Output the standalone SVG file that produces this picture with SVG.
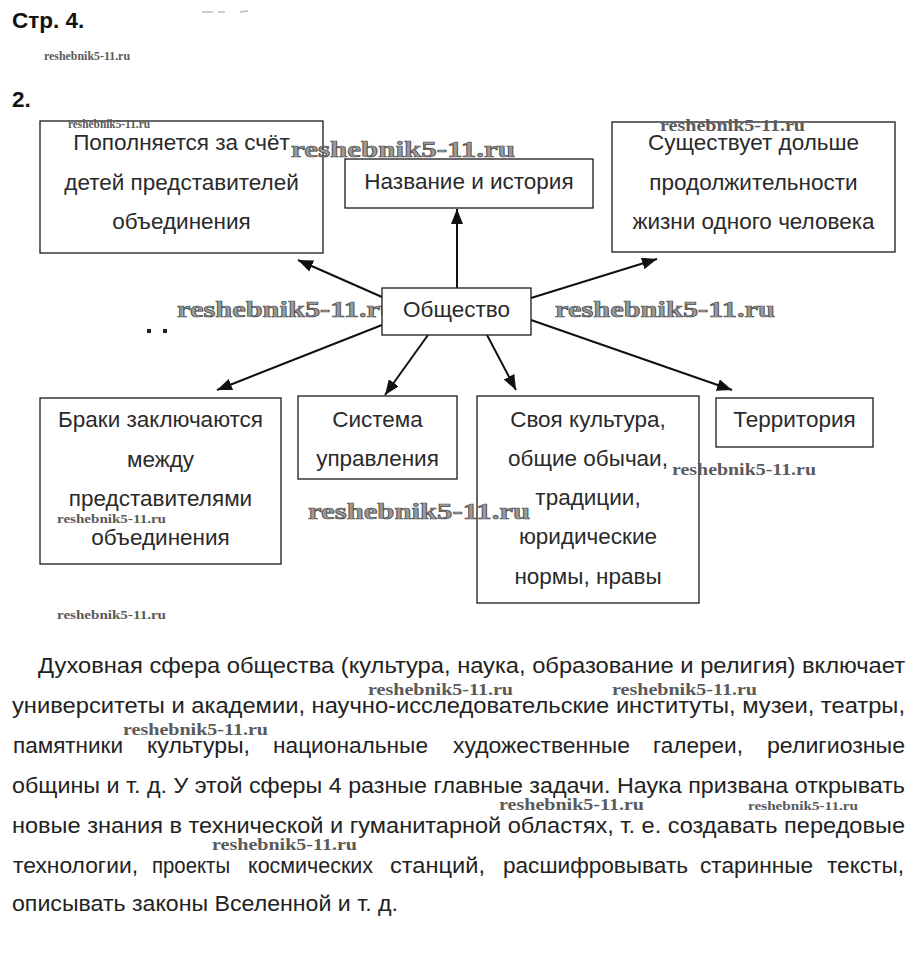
<svg xmlns="http://www.w3.org/2000/svg" width="920" height="963" viewBox="0 0 920 963">
<style>
.bg{fill:#fff}
.box{fill:#fff;stroke:#1a1a1a;stroke-width:1.3}
.t{font-family:"Liberation Sans",Arial,sans-serif;font-size:22.5px;fill:#2a2a2a;text-anchor:middle}
.p{font-family:"Liberation Sans",Arial,sans-serif;font-size:22px;fill:#222}
.h{font-family:"Liberation Sans",Arial,sans-serif;font-size:22.5px;font-weight:bold;fill:#111}
.wb{font-family:"Liberation Serif","Times New Roman",serif;font-weight:bold;font-size:23px;fill:#9a9a9a;stroke:#4a4a4a;stroke-width:0.7}
.wm{font-family:"Liberation Serif","Times New Roman",serif;font-weight:bold;font-size:16px;fill:#5a5a5a}
.ws{font-family:"Liberation Serif","Times New Roman",serif;font-weight:bold;font-size:12px;fill:#5a5a5a}
.c{stroke:#111;stroke-width:2;fill:none;marker-end:url(#ah)}
</style>
<defs>
<marker id="ah" markerUnits="userSpaceOnUse" markerWidth="16" markerHeight="12" refX="15" refY="6" orient="auto">
<path d="M0,0 L15,6 L0,12 z" fill="#111"/>
</marker>
</defs>
<rect class="bg" x="0" y="0" width="920" height="963"/>

<g id="header">
<text class="h" x="12" y="28">Стр. 4.</text>
<text class="h" x="12" y="107">2.</text>
<line x1="202" y1="12" x2="213" y2="12" stroke="#bbb" stroke-width="1.5"/>
<line x1="218" y1="12" x2="225" y2="12" stroke="#bbb" stroke-width="1.5"/>
<line x1="240" y1="12" x2="248" y2="11" stroke="#bbb" stroke-width="1.5"/>
<rect x="147" y="329" width="4" height="4" fill="#222"/>
<rect x="163" y="329" width="4" height="4" fill="#222"/>
</g>

<text class="wb" x="177" y="317" textLength="220" lengthAdjust="spacingAndGlyphs">reshebnik5-11.ru</text>

<g id="connectors">
<line class="c" x1="457" y1="288" x2="457" y2="209"/>
<line class="c" x1="382" y1="297" x2="298" y2="260"/>
<line class="c" x1="531" y1="298" x2="657" y2="259"/>
<line class="c" x1="382" y1="325" x2="217" y2="390"/>
<line class="c" x1="428" y1="335" x2="385" y2="395"/>
<line class="c" x1="487" y1="335" x2="516" y2="390"/>
<line class="c" x1="531" y1="320" x2="732" y2="390"/>
</g>

<g id="n-popolnyaetsya">
<rect class="box" x="40" y="121" width="283" height="132"/>
<text class="t" x="181.5" y="150">Пополняется за счёт</text>
<text class="t" x="181.5" y="190">детей представителей</text>
<text class="t" x="181.5" y="229">объединения</text>
</g>
<g id="n-nazvanie">
<rect class="box" x="345" y="159" width="248" height="49"/>
<text class="t" x="469" y="189">Название и история</text>
</g>
<g id="n-sushchestvuet">
<rect class="box" x="612" y="122" width="283" height="130"/>
<text class="t" x="753.5" y="150">Существует дольше</text>
<text class="t" x="753.5" y="190">продолжительности</text>
<text class="t" x="753.5" y="229">жизни одного человека</text>
</g>
<g id="n-obshchestvo">
<rect class="box" x="382" y="288" width="149" height="47"/>
<text class="t" x="456.5" y="317">Общество</text>
</g>
<g id="n-braki">
<rect class="box" x="40" y="398" width="241" height="166"/>
<text class="t" x="160.5" y="427">Браки заключаются</text>
<text class="t" x="160.5" y="467">между</text>
<text class="t" x="160.5" y="506">представителями</text>
<text class="t" x="160.5" y="545">объединения</text>
</g>
<g id="n-sistema">
<rect class="box" x="298" y="396" width="159" height="83"/>
<text class="t" x="377.5" y="427">Система</text>
<text class="t" x="377.5" y="466">управления</text>
</g>
<g id="n-kultura">
<rect class="box" x="477" y="396" width="222" height="207"/>
<text class="t" x="588" y="427">Своя культура,</text>
<text class="t" x="588" y="466">общие обычаи,</text>
<text class="t" x="588" y="505">традиции,</text>
<text class="t" x="588" y="544">юридические</text>
<text class="t" x="588" y="584">нормы, нравы</text>
</g>
<g id="n-territoriya">
<rect class="box" x="716" y="398" width="157" height="49"/>
<text class="t" x="794.5" y="427">Территория</text>
</g>

<g id="paragraph">
<text class="p" x="38" y="673" textLength="867" lengthAdjust="spacingAndGlyphs">Духовная сфера общества (культура, наука, образование и религия) включает</text>
<text class="p" x="12" y="713" textLength="893" lengthAdjust="spacingAndGlyphs">университеты и академии, научно-исследовательские институты, музеи, театры,</text>
<text class="p" y="753"><tspan x="13" textLength="110" lengthAdjust="spacingAndGlyphs">памятники</tspan><tspan x="147" textLength="103" lengthAdjust="spacingAndGlyphs">культуры,</tspan><tspan x="273" textLength="155" lengthAdjust="spacingAndGlyphs">национальные</tspan><tspan x="453" textLength="177" lengthAdjust="spacingAndGlyphs">художественные</tspan><tspan x="653" textLength="90" lengthAdjust="spacingAndGlyphs">галереи,</tspan><tspan x="767" textLength="138" lengthAdjust="spacingAndGlyphs">религиозные</tspan></text>
<text class="p" x="12" y="793" textLength="893" lengthAdjust="spacingAndGlyphs">общины и т. д. У этой сферы 4 разные главные задачи. Наука призвана открывать</text>
<text class="p" x="12" y="833" textLength="893" lengthAdjust="spacingAndGlyphs">новые знания в технической и гуманитарной областях, т. е. создавать передовые</text>
<text class="p" y="873"><tspan x="13" textLength="125" lengthAdjust="spacingAndGlyphs">технологии,</tspan><tspan x="152" textLength="78" lengthAdjust="spacingAndGlyphs">проекты</tspan><tspan x="248" textLength="125" lengthAdjust="spacingAndGlyphs">космических</tspan><tspan x="390" textLength="95" lengthAdjust="spacingAndGlyphs">станций,</tspan><tspan x="503" textLength="185" lengthAdjust="spacingAndGlyphs">расшифровывать</tspan><tspan x="700" textLength="113" lengthAdjust="spacingAndGlyphs">старинные</tspan><tspan x="827" textLength="77" lengthAdjust="spacingAndGlyphs">тексты,</tspan></text>
<text class="p" x="12" y="911" textLength="386" lengthAdjust="spacingAndGlyphs">описывать законы Вселенной и т. д.</text>
</g>

<g id="watermarks">
<text class="ws" x="44" y="60" textLength="86" lengthAdjust="spacingAndGlyphs">reshebnik5-11.ru</text>
<text class="ws" x="68" y="128" textLength="82" lengthAdjust="spacingAndGlyphs">reshebnik5-11.ru</text>
<text class="wb" x="291" y="157" textLength="224" lengthAdjust="spacingAndGlyphs">reshebnik5-11.ru</text>
<text class="wm" x="660" y="131" textLength="145" lengthAdjust="spacingAndGlyphs">reshebnik5-11.ru</text>
<text class="wb" x="555" y="317" textLength="220" lengthAdjust="spacingAndGlyphs">reshebnik5-11.ru</text>
<text class="wm" x="672" y="475" textLength="144" lengthAdjust="spacingAndGlyphs">reshebnik5-11.ru</text>
<text class="wb" x="308" y="519" textLength="222" lengthAdjust="spacingAndGlyphs">reshebnik5-11.ru</text>
<text class="ws" x="57" y="523" textLength="109" lengthAdjust="spacingAndGlyphs">reshebnik5-11.ru</text>
<text class="ws" x="57" y="619" textLength="109" lengthAdjust="spacingAndGlyphs">reshebnik5-11.ru</text>
<text class="wm" x="368" y="695" textLength="145" lengthAdjust="spacingAndGlyphs">reshebnik5-11.ru</text>
<text class="wm" x="612" y="695" textLength="145" lengthAdjust="spacingAndGlyphs">reshebnik5-11.ru</text>
<text class="wm" x="123" y="735" textLength="145" lengthAdjust="spacingAndGlyphs">reshebnik5-11.ru</text>
<text class="wm" x="499" y="810" textLength="145" lengthAdjust="spacingAndGlyphs">reshebnik5-11.ru</text>
<text class="ws" x="748" y="810" textLength="110" lengthAdjust="spacingAndGlyphs">reshebnik5-11.ru</text>
<text class="wm" x="212" y="850" textLength="145" lengthAdjust="spacingAndGlyphs">reshebnik5-11.ru</text>
</g>
</svg>
